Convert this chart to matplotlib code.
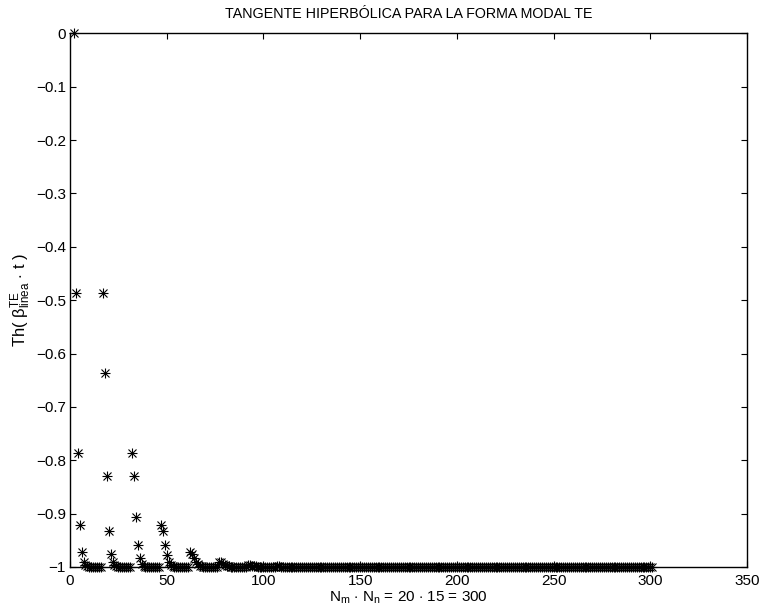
import numpy as np
import matplotlib
matplotlib.use("Agg")
import matplotlib.pyplot as plt
from matplotlib.ticker import FuncFormatter

plt.rcParams['font.family'] = ['Liberation Sans', 'DejaVu Sans']
plt.rcParams['mathtext.fontset'] = 'custom'
plt.rcParams['mathtext.rm'] = 'Liberation Sans'
plt.rcParams['mathtext.it'] = 'Liberation Sans:italic'
plt.rcParams['mathtext.sf'] = 'Liberation Sans'

# Th(beta*t) values, one row per m (20 rows), 15 values per row (n)
rest = [-1.0] * 7
row_m0 = [0.0, -0.487, -0.787, -0.921, -0.972, -0.990, -0.997, -0.999] + rest
row_m1 = [-0.487, -0.637, -0.830, -0.933, -0.975, -0.991, -0.997, -0.999] + rest
row_m2 = [-0.787, -0.830, -0.906, -0.958, -0.983, -0.994, -0.998, -1.0] + rest
row_m3 = [-0.921, -0.933, -0.958, -0.978, -0.990, -0.996, -0.998, -1.0] + rest
row_m4 = [-0.972, -0.975, -0.983, -0.990, -0.995, -0.998, -0.999, -1.0] + rest
row_m5 = [-0.990, -0.991, -0.994, -0.996, -0.998, -0.999, -1.0, -1.0] + rest
row_m6 = [-0.997, -0.997, -0.998, -0.998, -0.999, -1.0, -1.0, -1.0] + rest
row_m7 = [-0.999, -0.999, -1.0, -1.0, -1.0, -1.0, -1.0, -1.0] + rest
rows_m8_to_m19 = [[-1.0] * 15 for _ in range(12)]

values = (row_m0 + row_m1 + row_m2 + row_m3 + row_m4 + row_m5 + row_m6 + row_m7
          + sum(rows_m8_to_m19, []))
mode_index = np.arange(2, 2 + len(values))

xticks = [0, 50, 100, 150, 200, 250, 300, 350]
yticks = [0, -0.1, -0.2, -0.3, -0.4, -0.5, -0.6, -0.7, -0.8, -0.9, -1]

fig = plt.figure(figsize=(7.6, 6.14), dpi=100)
ax = fig.add_axes([70/760, 1 - 567/614, (747-70)/760, (567-33.3)/614])

ax.plot(mode_index, values, linestyle='none', marker='+', markersize=7.5,
        markeredgewidth=0.8, color='black', clip_on=False)
ax.plot(mode_index, values, linestyle='none', marker='x', markersize=5.3,
        markeredgewidth=0.8, color='black', clip_on=False)

ax.set_xlim(0, 350)
ax.set_ylim(-1, 0)
ax.set_xticks(xticks)
ax.set_yticks(yticks)
fmt = FuncFormatter(lambda v, _: ('%g' % round(v, 2)).replace('-', '\u2212'))
ax.xaxis.set_major_formatter(fmt)
ax.yaxis.set_major_formatter(fmt)
ax.tick_params(direction='in', length=4.5, width=0.8, top=True, right=True,
               labelsize=11, pad=3)
ax.tick_params(axis='x', pad=5)
for s in ax.spines.values():
    s.set_linewidth(1.0)

ax.set_title('TANGENTE HIPERBÓLICA PARA LA FORMA MODAL TE', fontsize=10.3, pad=11)
ax.set_xlabel(r'N$_\mathrm{m}$ $\cdot$ N$_\mathrm{n}$ = 20 $\cdot$ 15 = 300',
              fontsize=11, labelpad=1)
ax.set_ylabel(r'Th( $\mathrm{β}^{\mathrm{TE}}_{\mathrm{linea}}$ $\cdot$ t )',
              fontsize=12, labelpad=2)

fig.savefig('out.png', dpi=100)
